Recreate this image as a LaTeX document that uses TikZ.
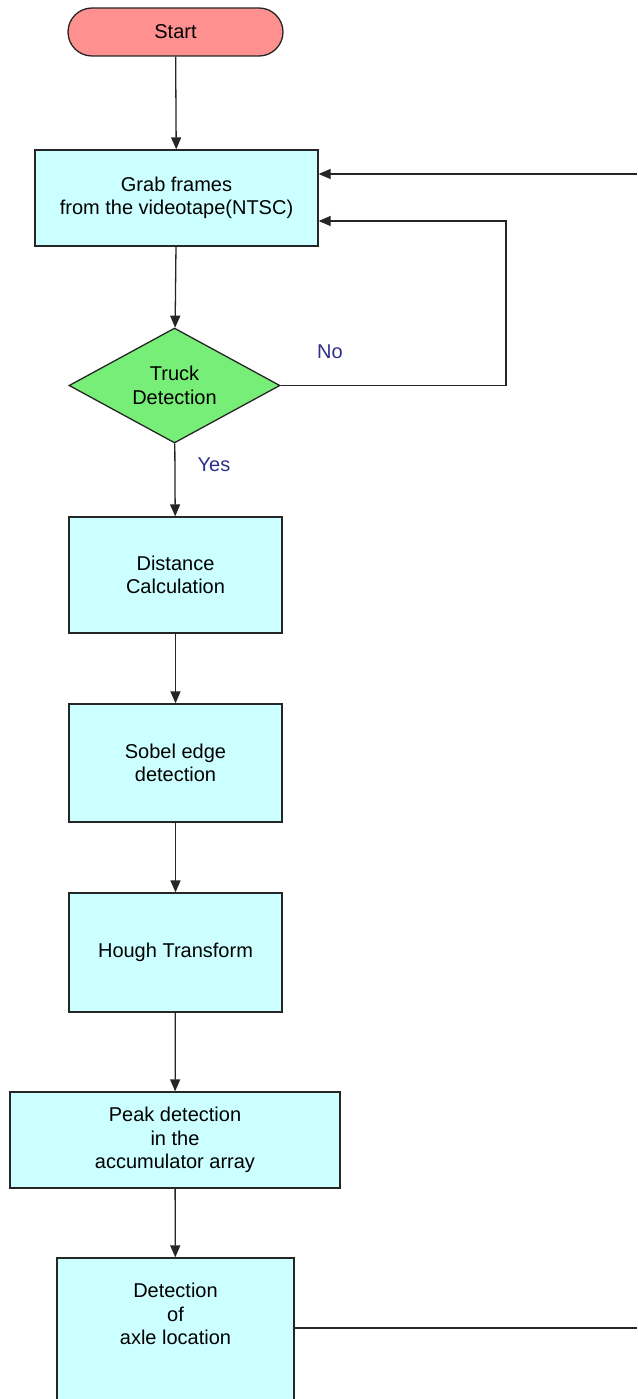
\documentclass[tikz,border=0pt]{standalone}
\usepackage{fontspec}
\setmainfont{Liberation Sans}
\usetikzlibrary{shapes.geometric,arrows.meta}
\definecolor{boxfill}{HTML}{CCFFFF}
\definecolor{startfill}{HTML}{FF9090}
\definecolor{diafill}{HTML}{77EE77}
\definecolor{lbl}{HTML}{2E2E8B}
\begin{document}
\begin{tikzpicture}[x=1pt,y=-1pt,
  every node/.style={font=\fontsize{20}{23.5}\selectfont, align=center},
  procbox/.style={draw=black!85, line width=1.3pt, fill=boxfill, rectangle, inner sep=0pt},
  arr/.style={draw=black!85, line width=1.3pt, -{Triangle[length=12pt,width=10pt]}},
  ln/.style={draw=black!85, line width=1.3pt},
  lab/.style={text=lbl}]
\useasboundingbox (0,0) rectangle (637,1399);
\node[draw=black!85, line width=1.3pt, fill=startfill, rounded corners=24pt, minimum width=215pt, minimum height=48pt, inner sep=0pt] (start) at (175.5,32) {Start};
\node[procbox, minimum width=283pt, minimum height=96pt] (grab) at (176.5,198) {Grab frames\\from the videotape(NTSC)};
\node[draw=black!85, line width=1.3pt, fill=diafill, diamond, aspect=1.83, inner sep=0pt, minimum width=211pt, minimum height=115pt] (dia) at (174.5,385.5) {Truck\\Detection};
\node[procbox, minimum width=213pt, minimum height=116pt] (dist) at (175.5,575) {Distance\\Calculation};
\node[procbox, minimum width=213pt, minimum height=118pt] (sobel) at (175.5,763) {Sobel edge\\detection};
\node[procbox, minimum width=213pt, minimum height=119pt] (hough) at (175.5,952.5) {Hough Transform};
\node[procbox, minimum width=330pt, minimum height=96pt] (peak) at (175,1140) {Peak detection\\in the\\accumulator array};
\node[procbox, minimum width=237pt, minimum height=170pt] (det) at (175.5,1343) {};
\node (dettext) at (175.5,1314) {Detection\\of\\axle location};
\node[lab] (no) at (330,352) {No};
\node[lab] (yes) at (214,465) {Yes};
\coordinate (nl) at (506,221);
\coordinate (r1) at (637,174);
\coordinate (r2) at (637,1328);
\draw[arr] (start) -- (grab);
\draw[arr] (grab) -- (dia);
\draw[arr] (dia) -- (dist);
\draw[arr] (dist) -- (sobel);
\draw[arr] (sobel) -- (hough);
\draw[arr] (hough) -- (peak);
\draw[arr] (peak) -- (det);
\draw[arr] (dia.east) -- (dia.east -| nl) -- (nl) -- (grab.east |- nl);
\draw[arr] (r1) -- (grab.east |- r1);
\draw[ln] (det.east |- r2) -- (r2);
\end{tikzpicture}
\end{document}
